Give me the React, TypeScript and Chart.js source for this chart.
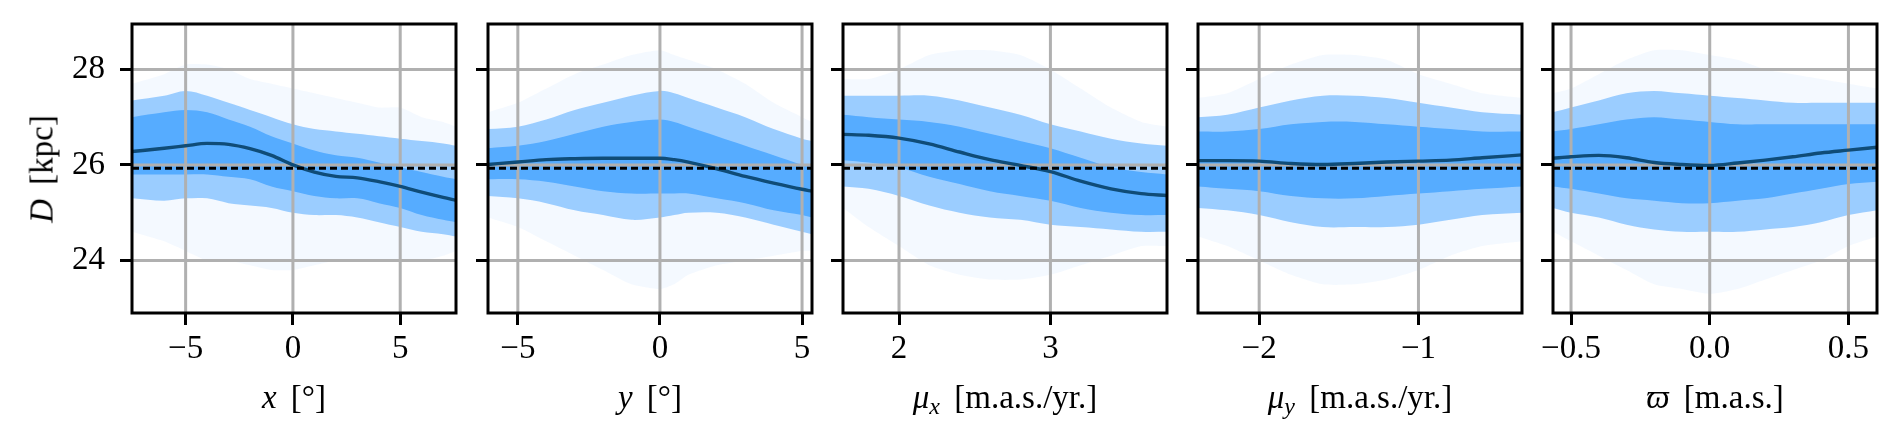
import { useEffect, useRef } from "react"
import { Chart, registerables } from "chart.js"

Chart.register(...registerables)

// distance reference and y axis
const REF_D = 25.93
const Y_MIN = 22.9
const Y_MAX = 28.95
const yTicks = [24, 26, 28]
const yTickLabels = ["24", "26", "28"]

// panel 1: x [deg]
const p1X = [-7.5, -6, -5, -4, -3, -2, -1, 0, 1, 2, 3, 4, 5, 6, 7, 7.6]
const p1Mean = [26.28, 26.35, 26.4, 26.45, 26.43, 26.34, 26.2, 26.0, 25.85, 25.76, 25.73, 25.65, 25.55, 25.43, 25.32, 25.26]
const p1CoreHi = [27.0, 27.1, 27.15, 27.1, 26.95, 26.8, 26.6, 26.45, 26.3, 26.2, 26.15, 26.05, 25.95, 25.85, 25.75, 25.7]
const p1CoreLo = [25.8, 25.8, 25.8, 25.8, 25.75, 25.7, 25.55, 25.45, 25.35, 25.3, 25.3, 25.2, 25.1, 24.95, 24.85, 24.8]
const p1BandHi = [27.35, 27.45, 27.55, 27.45, 27.3, 27.15, 27.0, 26.85, 26.75, 26.7, 26.65, 26.6, 26.55, 26.5, 26.45, 26.4]
const p1BandLo = [25.3, 25.25, 25.3, 25.3, 25.2, 25.15, 25.1, 25.0, 24.95, 24.95, 24.9, 24.8, 24.7, 24.6, 24.55, 24.5]
const p1OuterHi = [27.7, 27.9, 28.1, 28.1, 28.0, 27.8, 27.7, 27.6, 27.5, 27.4, 27.3, 27.2, 27.2, 27.0, 26.9, 26.8]
const p1OuterLo = [24.6, 24.4, 24.2, 24.0, 24.0, 23.9, 23.8, 23.8, 23.9, 24.0, 24.0, 24.0, 24.0, 24.0, 24.1, 24.2]
const p1Ticks = [-5, 0, 5]
const p1TickLabels = ["−5", "0", "5"]

// panel 2: y [deg]
const p2X = [-6.05, -5, -4, -3, -2, -1, 0, 0.5, 1, 2, 3, 4, 5, 5.35]
const p2Mean = [26.01, 26.06, 26.11, 26.13, 26.14, 26.14, 26.14, 26.11, 26.06, 25.92, 25.76, 25.62, 25.49, 25.45]
const p2CoreHi = [26.35, 26.4, 26.5, 26.65, 26.8, 26.9, 26.95, 26.9, 26.8, 26.6, 26.4, 26.2, 26.0, 25.95]
const p2CoreLo = [25.7, 25.7, 25.65, 25.55, 25.45, 25.4, 25.4, 25.4, 25.4, 25.3, 25.2, 25.05, 24.95, 24.9]
const p2BandHi = [26.75, 26.8, 26.95, 27.15, 27.3, 27.45, 27.55, 27.5, 27.4, 27.2, 27.0, 26.75, 26.55, 26.5]
const p2BandLo = [25.35, 25.3, 25.2, 25.05, 24.95, 24.85, 24.9, 24.95, 25.0, 25.0, 24.9, 24.75, 24.6, 24.55]
const p2OuterHi = [27.1, 27.3, 27.6, 27.9, 28.1, 28.3, 28.4, 28.3, 28.2, 28.0, 27.7, 27.3, 27.0, 26.9]
const p2OuterLo = [24.9, 24.7, 24.4, 24.1, 23.8, 23.5, 23.4, 23.5, 23.7, 23.9, 24.0, 24.1, 24.2, 24.2]
const p2Ticks = [-5, 0, 5]
const p2TickLabels = ["−5", "0", "5"]

// panel 3: mu_x [m.a.s./yr.]
const p3X = [1.63, 1.8, 2.0, 2.2, 2.4, 2.6, 2.8, 3.0, 3.2, 3.4, 3.6, 3.77]
const p3Mean = [26.64, 26.62, 26.56, 26.44, 26.27, 26.11, 25.99, 25.86, 25.66, 25.5, 25.4, 25.36]
const p3CoreHi = [27.05, 27.0, 26.95, 26.9, 26.8, 26.65, 26.5, 26.35, 26.15, 25.95, 25.85, 25.8]
const p3CoreLo = [26.1, 26.05, 25.95, 25.75, 25.6, 25.45, 25.35, 25.25, 25.1, 25.0, 24.95, 24.95]
const p3BandHi = [27.45, 27.45, 27.45, 27.45, 27.35, 27.2, 27.05, 26.85, 26.7, 26.55, 26.45, 26.4]
const p3BandLo = [25.55, 25.5, 25.35, 25.15, 25.0, 24.9, 24.85, 24.75, 24.7, 24.65, 24.6, 24.6]
const p3OuterHi = [27.8, 27.8, 28.0, 28.3, 28.4, 28.4, 28.3, 28.0, 27.6, 27.2, 26.9, 26.8]
const p3OuterLo = [25.1, 24.7, 24.3, 23.9, 23.7, 23.6, 23.6, 23.7, 23.9, 24.1, 24.3, 24.3]
const p3Ticks = [2, 3]
const p3TickLabels = ["2", "3"]

// panel 4: mu_y [m.a.s./yr.]
const p4X = [-2.384, -2.2, -2.0, -1.8, -1.6, -1.4, -1.2, -1.0, -0.8, -0.6, -0.35]
const p4Mean = [26.09, 26.09, 26.08, 26.03, 26.01, 26.03, 26.06, 26.08, 26.1, 26.15, 26.21]
const p4CoreHi = [26.7, 26.7, 26.75, 26.85, 26.9, 26.9, 26.85, 26.8, 26.75, 26.7, 26.7]
const p4CoreLo = [25.55, 25.5, 25.45, 25.35, 25.3, 25.3, 25.35, 25.4, 25.45, 25.5, 25.55]
const p4BandHi = [27.0, 27.05, 27.2, 27.35, 27.45, 27.45, 27.4, 27.3, 27.2, 27.1, 27.05]
const p4BandLo = [25.1, 25.05, 24.95, 24.8, 24.7, 24.7, 24.7, 24.75, 24.85, 24.95, 25.0]
const p4OuterHi = [27.4, 27.5, 27.8, 28.1, 28.3, 28.3, 28.2, 27.9, 27.7, 27.5, 27.4]
const p4OuterLo = [24.5, 24.3, 24.0, 23.7, 23.5, 23.5, 23.6, 23.8, 24.1, 24.3, 24.4]
const p4Ticks = [-2, -1]
const p4TickLabels = ["−2", "−1"]

// panel 5: parallax [m.a.s.]
const p5X = [-0.565, -0.5, -0.4, -0.3, -0.2, -0.1, 0, 0.1, 0.2, 0.3, 0.4, 0.5, 0.603]
const p5Mean = [26.14, 26.17, 26.2, 26.15, 26.05, 26.01, 25.99, 26.04, 26.1, 26.17, 26.25, 26.31, 26.37]
const p5CoreHi = [26.7, 26.75, 26.85, 26.95, 27.0, 26.95, 26.9, 26.85, 26.85, 26.85, 26.85, 26.85, 26.85]
const p5CoreLo = [25.55, 25.5, 25.4, 25.3, 25.25, 25.2, 25.2, 25.25, 25.3, 25.4, 25.5, 25.6, 25.65]
const p5BandHi = [27.1, 27.2, 27.35, 27.5, 27.55, 27.5, 27.45, 27.4, 27.35, 27.3, 27.3, 27.3, 27.3]
const p5BandLo = [25.1, 25.0, 24.9, 24.75, 24.65, 24.6, 24.6, 24.6, 24.65, 24.7, 24.8, 24.95, 25.05]
const p5OuterHi = [27.5, 27.6, 27.9, 28.2, 28.4, 28.4, 28.3, 28.2, 28.0, 27.9, 27.8, 27.7, 27.6]
const p5OuterLo = [24.6, 24.4, 24.1, 23.8, 23.5, 23.4, 23.3, 23.4, 23.6, 23.8, 24.0, 24.3, 24.5]
const p5Ticks = [-0.5, 0, 0.5]
const p5TickLabels = ["−0.5", "0.0", "0.5"]

interface Panel {
  x: number[]
  mean: number[]
  coreHi: number[]
  coreLo: number[]
  bandHi: number[]
  bandLo: number[]
  outerHi: number[]
  outerLo: number[]
  ticks: number[]
  tickLabels: string[]
}

const panels: Panel[] = [
  { x: p1X, mean: p1Mean, coreHi: p1CoreHi, coreLo: p1CoreLo, bandHi: p1BandHi, bandLo: p1BandLo, outerHi: p1OuterHi, outerLo: p1OuterLo, ticks: p1Ticks, tickLabels: p1TickLabels },
  { x: p2X, mean: p2Mean, coreHi: p2CoreHi, coreLo: p2CoreLo, bandHi: p2BandHi, bandLo: p2BandLo, outerHi: p2OuterHi, outerLo: p2OuterLo, ticks: p2Ticks, tickLabels: p2TickLabels },
  { x: p3X, mean: p3Mean, coreHi: p3CoreHi, coreLo: p3CoreLo, bandHi: p3BandHi, bandLo: p3BandLo, outerHi: p3OuterHi, outerLo: p3OuterLo, ticks: p3Ticks, tickLabels: p3TickLabels },
  { x: p4X, mean: p4Mean, coreHi: p4CoreHi, coreLo: p4CoreLo, bandHi: p4BandHi, bandLo: p4BandLo, outerHi: p4OuterHi, outerLo: p4OuterLo, ticks: p4Ticks, tickLabels: p4TickLabels },
  { x: p5X, mean: p5Mean, coreHi: p5CoreHi, coreLo: p5CoreLo, bandHi: p5BandHi, bandLo: p5BandLo, outerHi: p5OuterHi, outerLo: p5OuterLo, ticks: p5Ticks, tickLabels: p5TickLabels },
]

const FONT = '"Liberation Serif", "DejaVu Serif", serif'
const GRID = "#b0b0b0"
const MEAN_COLOR = "#0f4c78"
const BLUE = (a: number) => `rgba(30, 144, 255, ${a})`
const LW = 3

// layout (pixels)
const PLOT_LEFTS = [132, 488, 843, 1198, 1553]
const PLOT_W = 324
const PLOT_TOP = 24
const PLOT_H = 289
const PAGE_H = 443

// grey grid drawn above the sample band, below mean and reference
const gridUnder = {
  id: "gridUnder",
  beforeDatasetDraw(chart: Chart, args: { index: number }) {
    if (args.index !== 1) return
    const { ctx, chartArea: a } = chart
    const sx = chart.scales.x
    const sy = chart.scales.y
    ctx.save()
    ctx.strokeStyle = GRID
    ctx.lineWidth = LW
    ctx.beginPath()
    for (const t of sx.ticks) {
      const px = sx.getPixelForValue(t.value)
      ctx.moveTo(px, a.top)
      ctx.lineTo(px, a.bottom)
    }
    for (const t of sy.ticks) {
      const py = sy.getPixelForValue(t.value)
      ctx.moveTo(a.left, py)
      ctx.lineTo(a.right, py)
    }
    ctx.stroke()
    ctx.restore()
  },
}

const frame = {
  id: "frame",
  afterDraw(chart: Chart) {
    const { ctx, chartArea: a } = chart
    ctx.save()
    ctx.strokeStyle = "#000"
    ctx.lineWidth = LW
    ctx.strokeRect(a.left, a.top, a.right - a.left, a.bottom - a.top)
    ctx.restore()
  },
}

function pts(xs: number[], ys: number[]) {
  return xs.map((x, i) => ({ x, y: ys[i] }))
}

function band(xs: number[], lo: number[], hi: number[], alpha: number, tension: number) {
  const base = {
    borderColor: "transparent",
    borderWidth: 0,
    pointRadius: 0,
    tension,
  }
  return [
    { ...base, data: pts(xs, lo), fill: false },
    { ...base, data: pts(xs, hi), fill: "-1", backgroundColor: BLUE(alpha) },
  ]
}

function PanelChart({ panel, index }: { panel: Panel; index: number }) {
  const canvasRef = useRef<HTMLCanvasElement>(null)
  const first = index === 0
  const yW = first ? 132 : 20
  const canvasLeft = PLOT_LEFTS[index] - yW
  const canvasW = yW + PLOT_W + 4

  useEffect(() => {
    if (!canvasRef.current) return
    const xMin = panel.x[0]
    const xMax = panel.x[panel.x.length - 1]

    const chart = new Chart(canvasRef.current, {
      type: "line",
      data: {
        datasets: [
          {
            data: [{ x: xMin, y: REF_D }, { x: xMax, y: REF_D }],
            borderColor: "#000",
            borderWidth: 3,
            borderDash: [7, 4],
            pointRadius: 0,
            fill: false,
          },
          {
            data: pts(panel.x, panel.mean),
            borderColor: MEAN_COLOR,
            borderWidth: 3.4,
            pointRadius: 0,
            cubicInterpolationMode: "monotone",
            fill: false,
          },
          ...band(panel.x, panel.coreLo, panel.coreHi, 0.55, 0.35),
          ...band(panel.x, panel.bandLo, panel.bandHi, 0.42, 0.35),
          ...band(panel.x, panel.outerLo, panel.outerHi, 0.05, 0.2),
        ] as any,
      },
      options: {
        responsive: false,
        animation: false,
        events: [],
        layout: { padding: { top: PLOT_TOP, right: 4, left: 0, bottom: 0 } },
        plugins: {
          legend: { display: false },
          tooltip: { enabled: false },
        },
        scales: {
          x: {
            type: "linear",
            min: xMin,
            max: xMax,
            afterBuildTicks: (axis: any) => {
              axis.ticks = panel.ticks.map((v) => ({ value: v }))
            },
            afterFit: (axis: any) => {
              axis.height = PAGE_H - PLOT_TOP - PLOT_H
              axis.paddingLeft = 0
              axis.paddingRight = 0
            },
            ticks: {
              color: "#000",
              font: { family: FONT, size: 33 },
              padding: 5,
              maxRotation: 0,
              autoSkip: false,
              callback: (_v: any, i: number) => panel.tickLabels[i],
            },
            grid: {
              drawOnChartArea: false,
              drawTicks: true,
              tickLength: 12,
              tickColor: "#000",
              tickWidth: LW,
            },
            border: { display: false },
          },
          y: {
            type: "linear",
            min: Y_MIN,
            max: Y_MAX,
            afterBuildTicks: (axis: any) => {
              axis.ticks = yTicks.map((v) => ({ value: v }))
            },
            afterFit: (axis: any) => {
              axis.width = yW
              axis.paddingTop = 0
              axis.paddingBottom = 0
            },
            ticks: {
              display: first,
              color: "#000",
              font: { family: FONT, size: 33 },
              padding: 15,
              callback: (_v: any, i: number) => yTickLabels[i],
            },
            grid: {
              drawOnChartArea: false,
              drawTicks: true,
              tickLength: 12,
              tickColor: "#000",
              tickWidth: LW,
            },
            border: { display: false },
          },
        },
      },
      plugins: [gridUnder, frame],
    })

    return () => chart.destroy()
  }, [panel])

  return (
    <canvas
      ref={canvasRef}
      width={canvasW}
      height={PAGE_H}
      style={{ position: "absolute", left: canvasLeft, top: 0, width: canvasW, height: PAGE_H }}
    />
  )
}

const titleStyle = (i: number): React.CSSProperties => ({
  position: "absolute",
  left: PLOT_LEFTS[i] - 40,
  width: PLOT_W + 80,
  top: 381,
  textAlign: "center",
  fontFamily: FONT,
  fontSize: 33,
  lineHeight: 1,
  color: "#000",
  whiteSpace: "nowrap",
})

const subStyle: React.CSSProperties = { fontSize: 24, fontStyle: "italic", verticalAlign: -6, marginRight: 6 }

export default function App() {
  return (
    <div style={{ position: "absolute", left: 0, top: 0, width: 1901, height: PAGE_H, background: "#fff" }}>
      {panels.map((p, i) => (
        <PanelChart key={i} panel={p} index={i} />
      ))}
      <div
        style={{
          position: "absolute",
          left: 42,
          top: PLOT_TOP + PLOT_H / 2,
          transform: "translate(-50%, -50%) rotate(-90deg)",
          fontFamily: FONT,
          fontSize: 33,
          lineHeight: 1,
          whiteSpace: "nowrap",
        }}
      >
        <i style={{ marginRight: 6 }}>D</i> [kpc]
      </div>
      <div style={titleStyle(0)}>
        <i style={{ marginRight: 6 }}>x</i> [°]
      </div>
      <div style={titleStyle(1)}>
        <i style={{ marginRight: 6 }}>y</i> [°]
      </div>
      <div style={titleStyle(2)}>
        <i>μ</i>
        <sub style={subStyle}>x</sub> [m.a.s./yr.]
      </div>
      <div style={titleStyle(3)}>
        <i>μ</i>
        <sub style={subStyle}>y</sub> [m.a.s./yr.]
      </div>
      <div style={titleStyle(4)}>
        <i style={{ marginRight: 6 }}>ϖ</i> [m.a.s.]
      </div>
    </div>
  )
}
